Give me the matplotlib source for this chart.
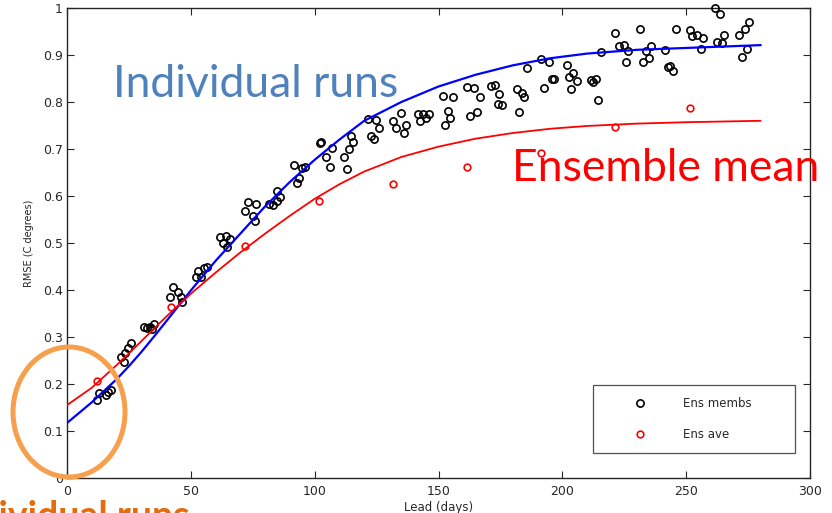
import matplotlib
matplotlib.use('Agg')
import matplotlib.pyplot as plt
from matplotlib.patches import Ellipse

# ---- data ----
memb_lead = [12.0, 12.9, 15.7, 16.4, 17.7,
             21.7, 23.1, 23.3, 24.5, 25.8,
             31.0, 32.2, 33.6, 34.5, 35.1,
             41.5, 42.9, 44.9, 46.0, 46.4,
             51.9, 52.9, 54.0, 55.4, 56.6,
             61.7, 63.0, 64.1, 64.8, 65.7,
             71.8, 73.0, 74.9, 75.9, 76.5,
             81.6, 83.2, 84.6, 84.8, 85.9,
             91.5, 92.9, 93.8, 95.0, 96.0,
             102.0, 102.7, 104.6, 106.0, 107.1,
             111.9, 112.9, 113.8, 114.6, 115.5,
             121.6, 122.8, 123.8, 124.9, 125.8,
             131.7, 132.7, 134.9, 135.9, 136.7,
             141.7, 142.6, 143.7, 144.8, 146.0,
             151.7, 152.7, 153.8, 154.6, 155.9,
             161.6, 162.8, 164.5, 165.6, 166.9,
             171.2, 173.0, 174.1, 174.6, 175.7,
             181.5, 182.7, 183.9, 184.7, 185.6,
             191.4, 192.7, 194.8, 195.8, 196.8,
             201.7, 202.5, 203.5, 204.4, 205.8,
             211.6, 212.5, 213.6, 214.6, 215.6,
             221.4, 222.7, 224.8, 225.6, 226.4,
             231.5, 232.4, 233.7, 234.8, 235.8,
             241.5, 242.5, 243.4, 244.8, 245.8,
             251.5, 252.5, 254.3, 255.8, 256.6,
             261.7, 262.6, 263.6, 264.6, 265.4,
             271.4, 272.7, 273.7, 274.6, 275.4]
memb_rmse = [0.166, 0.181, 0.177, 0.184, 0.187,
             0.257, 0.247, 0.267, 0.277, 0.287,
             0.321, 0.319, 0.322, 0.316, 0.327,
             0.386, 0.406, 0.396, 0.386, 0.374,
             0.427, 0.440, 0.428, 0.446, 0.449,
             0.512, 0.499, 0.515, 0.492, 0.509,
             0.568, 0.588, 0.558, 0.547, 0.584,
             0.582, 0.580, 0.611, 0.589, 0.597,
             0.665, 0.627, 0.639, 0.659, 0.661,
             0.712, 0.714, 0.682, 0.661, 0.703,
             0.684, 0.657, 0.701, 0.728, 0.714,
             0.764, 0.728, 0.722, 0.762, 0.744,
             0.759, 0.745, 0.777, 0.735, 0.752,
             0.775, 0.760, 0.774, 0.765, 0.774,
             0.812, 0.751, 0.781, 0.767, 0.810,
             0.832, 0.771, 0.830, 0.779, 0.810,
             0.834, 0.836, 0.795, 0.816, 0.794,
             0.827, 0.779, 0.820, 0.811, 0.873,
             0.891, 0.830, 0.885, 0.849, 0.850,
             0.878, 0.854, 0.827, 0.862, 0.845,
             0.847, 0.843, 0.850, 0.805, 0.906,
             0.946, 0.919, 0.921, 0.886, 0.909,
             0.955, 0.886, 0.909, 0.893, 0.919,
             0.911, 0.875, 0.877, 0.866, 0.955,
             0.953, 0.940, 0.943, 0.913, 0.937,
             1.001, 0.928, 0.987, 0.926, 0.943,
             0.943, 0.896, 0.955, 0.912, 0.970]

ave_lead = [12.1, 42.0, 71.8, 101.6, 131.5, 161.7, 191.5, 221.4, 251.6]
ave_rmse = [0.206, 0.363, 0.494, 0.589, 0.626, 0.662, 0.691, 0.747, 0.787]

fit_lead = [0, 10, 20, 25, 30, 35, 40, 50, 60, 70, 80, 90, 100, 110, 120, 135,
            150, 165, 180, 195, 210, 230, 250, 280]
fit_memb = [0.117, 0.161, 0.210, 0.238, 0.268, 0.300, 0.333, 0.399, 0.462,
            0.520, 0.578, 0.630, 0.677, 0.720, 0.760, 0.800, 0.833, 0.858,
            0.878, 0.893, 0.903, 0.911, 0.915, 0.921]
fit_ave = [0.155, 0.192, 0.240, 0.265, 0.291, 0.317, 0.343, 0.392, 0.437,
           0.480, 0.520, 0.558, 0.594, 0.625, 0.652, 0.683, 0.705, 0.722,
           0.734, 0.743, 0.749, 0.754, 0.757, 0.760]

x_ticks = [0, 50, 100, 150, 200, 250, 300]
y_ticks = [0, 0.1, 0.2, 0.3, 0.4, 0.5, 0.6, 0.7, 0.8, 0.9, 1.0]
y_tick_labels = ['0', '0.1', '0.2', '0.3', '0.4', '0.5', '0.6', '0.7', '0.8', '0.9', '1']

W, H = 832, 513
fig = plt.figure(figsize=(W / 100, H / 100), dpi=100)
ax = fig.add_axes([67 / W, 35 / H, 743 / W, 470 / H])

ax.plot(memb_lead, memb_rmse, 'o', mfc='none', mec='black', ms=5.2, mew=1.2,
        label='Ens membs', clip_on=False, zorder=3)
ax.plot(ave_lead, ave_rmse, 'o', mfc='none', mec='red', ms=4.8, mew=1.2,
        label='Ens ave', clip_on=False, zorder=3)
ax.plot(fit_lead, fit_memb, '-', color='#0000ff', lw=1.6, zorder=4)
ax.plot(fit_lead, fit_ave, '-', color='#ff0000', lw=1.3, zorder=4)

ax.set_xlim(0, 300)
ax.set_ylim(0, 1)
ax.set_xticks(x_ticks)
ax.set_yticks(y_ticks)
ax.set_yticklabels(y_tick_labels)
ax.tick_params(direction='in', length=5, width=0.8, top=True, right=True,
               labelsize=9, colors='#262626')
ax.tick_params(axis='x', pad=5)
ax.tick_params(axis='y', pad=3)
for s in ax.spines.values():
    s.set_linewidth(1.0)
    s.set_color('#262626')

ax.set_xlabel('Lead (days)', fontsize=8.5, color='#262626', labelpad=2)
ax.set_ylabel('RMSE (C degrees)', fontsize=7, color='#262626', labelpad=6)

leg = ax.legend(loc='lower left', bbox_to_anchor=(0.708, 0.054, 0.272, 0.133),
                mode='expand', borderaxespad=0, fancybox=False, frameon=True,
                edgecolor='#262626', fontsize=8.5, borderpad=1.0,
                handlelength=6.0, handletextpad=0.6, labelspacing=1.5,
                numpoints=1)
leg.get_frame().set_linewidth(0.9)
for t in leg.get_texts():
    t.set_color('#262626')

fig.text(113 / W, (H - 96.7) / H, 'Individual runs', family='Lato', fontsize=32,
         color='#4F81BD', va='baseline', ha='left')
fig.text(512 / W, (H - 181) / H, 'Ensemble mean', family='Lato', fontsize=32,
         color='#FF0000', va='baseline', ha='left')
fig.text(190 / W, -0.03, 'Individual runs', family='Lato', fontsize=27,
         fontweight='bold', color='#E46C0A', va='baseline', ha='right')

fig.add_artist(Ellipse((69 / W, (H - 412) / H), 112 / W, 130 / H,
                       transform=fig.transFigure, fill=False,
                       ec='#F6A04D', lw=3.6, zorder=10))

fig.savefig('out.png', dpi=100)
